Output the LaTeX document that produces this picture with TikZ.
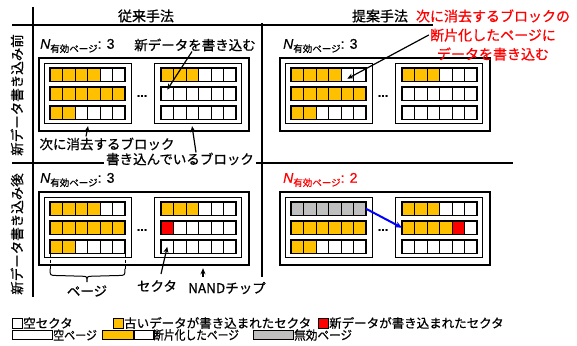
\documentclass[tikz,border=0pt]{standalone}
\usepackage{fontspec}
\setmainfont{Noto Sans CJK JP}[FakeBold=0.6]
\newfontfamily\lat{Liberation Sans}[FakeBold=0.4]
\usetikzlibrary{arrows.meta,calc}
\definecolor{oldc}{HTML}{FFC000}
\definecolor{invc}{HTML}{BFBFBF}
\definecolor{newc}{HTML}{FF0000}
\tikzset{
  sector/.style={draw=black, line width=0.8pt, minimum width=12.5pt, minimum height=13.5pt, inner sep=0pt, outer sep=0pt, anchor=north west},
  pageframe/.style={draw=black, line width=1.4pt, minimum width=75pt, minimum height=13.5pt, inner sep=0pt, outer sep=0pt, anchor=north west},
  blockbox/.style={draw=black, line width=1.1pt, minimum width=87pt, minimum height=60pt, inner sep=0pt, anchor=north west},
  chipbox/.style={draw=black, line width=2.2pt, minimum width=210pt, minimum height=73pt, inner sep=0pt, anchor=north west},
  gridline/.style={line width=1.8pt},
  lbl/.style={font=\fontsize{13.5}{16}\selectfont, inner sep=0pt},
  hdr/.style={font=\fontsize{14}{16}\selectfont, inner sep=0pt},
  redlbl/.style={font=\fontsize{14}{19}\selectfont, text=newc, inner sep=0pt, align=center},
  nl/.style={font=\fontsize{14}{16}\selectfont, inner sep=0pt, anchor=west},
  leg/.style={font=\fontsize{12.5}{14}\selectfont, inner sep=0pt, anchor=west},
  legsq/.style={draw=black, line width=0.9pt, inner sep=0pt, minimum size=10pt},
  legrect/.style={draw=black, line width=0.9pt, inner sep=0pt, minimum height=9pt},
  arr/.style={-{Stealth[length=6pt,width=5pt]}, line width=1.2pt},
  bluearr/.style={-{Stealth[length=7pt,width=6pt]}, line width=2pt, draw=blue},
}
\newcommand\sectorrow[4]{%
  \foreach \c [count=\i] in {#4}{\node[sector, fill=\c] (#1-\i) at ({#2+(\i-1)*12.5},#3) {};}
  \node[pageframe] (#1) at (#2,#3) {};
}
\newcommand\drawpanel[9]{%
  \begin{scope}[shift={(#2,#3)}]
    \node[chipbox] (#1-chip) at (38,57) {};
    \node[blockbox] (#1-b1) at (44,63) {};
    \node[blockbox] (#1-b2) at (154,63) {};
    \sectorrow{#1-b1r1}{50}{68}{#4}
    \sectorrow{#1-b1r2}{50}{87}{#5}
    \sectorrow{#1-b1r3}{50}{106}{#6}
    \sectorrow{#1-b2r1}{161}{68}{#7}
    \sectorrow{#1-b2r2}{161}{87}{#8}
    \sectorrow{#1-b2r3}{161}{106}{#9}
    \node[font=\lat\bfseries\fontsize{11}{12}\selectfont, inner sep=0pt] (#1-dots) at (142,96) {…};
  \end{scope}}
\newcommand\nlabel[1]{{\lat\itshape N}\raisebox{-3.5pt}{\fontsize{9.5}{10}\selectfont 有効ページ}{\lat : #1}}
\begin{document}
\begin{tikzpicture}[x=1pt,y=-1pt]
\useasboundingbox (0,0) rectangle (577,345);
% grid
\draw[gridline] (12,25) -- (433,25);
\draw[gridline] (33,7) -- (33,297);
\draw[gridline] (262,23) -- (262,277);
\draw[gridline] (12,163) -- (513,163);
% headers
\node[hdr] (h1) at (146,16) {従来手法};
\node[hdr] (h2) at (380,16) {提案手法};
\node[lbl, rotate=90] (row1) at (17,95) {新データ書き込み前};
\node[lbl, rotate=90] (row2) at (17,234) {新データ書き込み後};
% panels
\drawpanel{tl}{0}{0}{oldc,oldc,oldc,oldc,white,white}{oldc,oldc,oldc,oldc,oldc,oldc}{oldc,oldc,white,white,white,white}{oldc,oldc,oldc,white,white,white}{white,white,white,white,white,white}{white,white,white,white,white,white}
\drawpanel{tr}{241}{0}{oldc,oldc,oldc,oldc,white,white}{oldc,oldc,oldc,oldc,oldc,oldc}{oldc,oldc,white,white,white,white}{oldc,oldc,oldc,white,white,white}{white,white,white,white,white,white}{white,white,white,white,white,white}
\drawpanel{bl}{0}{134}{oldc,oldc,oldc,oldc,white,white}{oldc,oldc,oldc,oldc,oldc,oldc}{oldc,oldc,white,white,white,white}{oldc,oldc,oldc,white,white,white}{newc,white,white,white,white,white}{white,white,white,white,white,white}
\drawpanel{br}{241}{134}{invc,invc,invc,invc,invc,invc}{oldc,oldc,oldc,oldc,oldc,oldc}{oldc,oldc,white,white,white,white}{oldc,oldc,oldc,white,white,white}{oldc,oldc,oldc,oldc,newc,white}{white,white,white,white,white,white}
% N labels
\node[nl] (tl-n) at (40,46) {\nlabel{3}};
\node[nl] (tr-n) at (283,46) {\nlabel{3}};
\node[nl] (bl-n) at (40,180) {\nlabel{3}};
\node[nl, text=newc] (br-n) at (283,180) {\nlabel{2}};
% annotations
\node[lbl] (tl-new) at (195,45) {新データを書き込む};
\node[lbl] (erase) at (107,144) {次に消去するブロック};
\node[lbl, fill=white, inner xsep=2pt] (writing) at (180,159) {書き込んでいるブロック};
\node[redlbl] (prop) at (493,35) {次に消去するブロックの\\断片化したページに\\データを書き込む};
\node[lbl] (sect) at (157,286) {セクタ};
\node[lbl] (nand) at (227,288) {NANDチップ};
\node[lbl] (pagelbl) at (87,291) {ページ};
% connectors
\draw[arr] ([xshift=-3pt]tl-new.south) -- ($(tl-b2r2-1.north)!0.4!(tl-b2r2-1.center)$);
\draw[arr] ([xshift=-21pt,yshift=1pt]erase.north) -- ([yshift=-2pt]tl-b1.south);
\draw[arr] ([xshift=16pt]writing.north) -- ([xshift=-6pt,yshift=-2pt]tl-b2.south);
\draw[arr] ([xshift=13pt]prop.west) -- ([yshift=-4pt]tr-b1r1-5.center);
\draw[bluearr] (br-b1r1.east) -- (br-b2r2.west);
\draw[arr] ([xshift=4pt,yshift=6pt]sect.north) -- (bl-b2r3-1.center);
\coordinate (nandtail) at ([xshift=-24pt,yshift=5pt]nand.north);
\draw[arr] (nandtail) -- ($(nandtail |- bl-chip.south)+(0,2)$);
% brace for page
\draw[dashed, line width=0.9pt] (bl-b1r3.south west) -- ++(0,15) coordinate (brl);
\draw[dashed, line width=0.9pt] (bl-b1r3.south east) -- ++(0,15) coordinate (brr);
\draw[line width=1pt] (brl) .. controls ($(brl)+(0,7)$) .. ($(brl)+(7,7)$) -- ($(pagelbl.north)+(-6,-9)$) .. controls ($(pagelbl.north)+(0,-9)$) .. ($(pagelbl.north)+(0,-3)$) .. controls ($(pagelbl.north)+(0,-9)$) .. ($(pagelbl.north)+(6,-9)$) -- ($(brr)+(-7,7)$) .. controls ($(brr)+(0,7)$) .. (brr);
% legend
\node[legsq, fill=white] (lg-es) at (17,323) {};
\node[leg] (lg-es-t) at (23,323) {空セクタ};
\node[legsq, fill=oldc] (lg-os) at (118,323) {};
\node[leg] (lg-os-t) at (124,323) {古いデータが書き込まれたセクタ};
\node[legsq, fill=newc] (lg-ns) at (323,323) {};
\node[leg] (lg-ns-t) at (329,323) {新データが書き込まれたセクタ};
\node[legrect, fill=white, minimum width=40pt] (lg-ep) at (32,335) {};
\node[leg] (lg-ep-t) at (53,335) {\scalebox{0.88}[1]{空ページ}};
\node[legrect, fill=oldc, minimum width=31pt, anchor=west] (lg-f1) at (102,335) {};
\node[legrect, fill=white, minimum width=19pt, anchor=west] (lg-f2) at (lg-f1.east) {};
\node[leg] (lg-f-t) at (153,335) {\scalebox{0.86}[1]{断片化したページ}};
\node[legrect, fill=invc, minimum width=40pt] (lg-ip) at (273,335) {};
\node[leg] (lg-ip-t) at (294,335) {\scalebox{0.93}[1]{無効ページ}};
\end{tikzpicture}
\end{document}
